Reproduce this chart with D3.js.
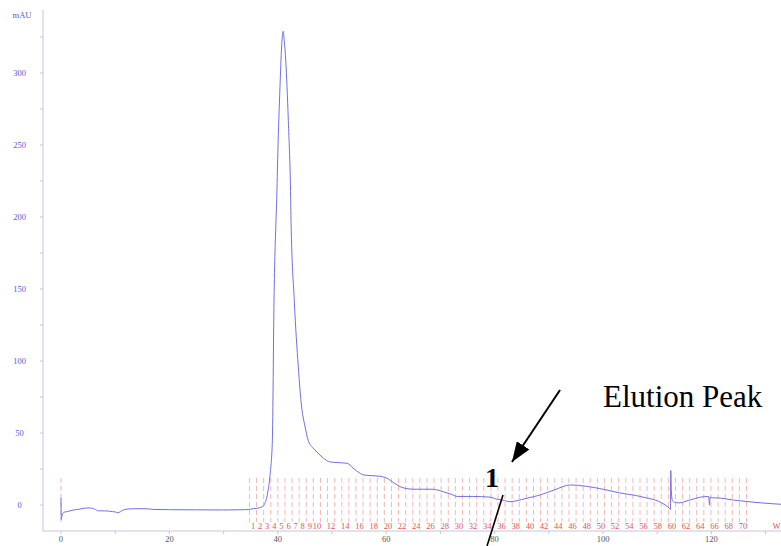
<!DOCTYPE html>
<html>
<head>
<meta charset="utf-8">
<script src="https://cdn.jsdelivr.net/npm/d3@7"></script>
<style>
  body { margin: 0; background: #fff; }
  svg { display: block; }
</style>
</head>
<body>
<svg width="781" height="546"></svg>
<script>
// chromatogram: time (ml) and absorbance (mAU)
var time = [0, 0.05, 0.15, 0.5, 1.2, 2.2, 3.5, 4.7, 5.5, 6.2, 6.9, 8, 9, 10, 10.5, 11, 11.8, 13, 14.6, 16, 17, 20, 25, 30, 34, 35.5, 36.5,
  37.2, 37.6, 38.2, 38.6, 39.0, 39.3, 39.67, 39.8, 40.0, 40.4, 40.7, 41.0, 41.2, 41.46, 41.94, 42.38, 42.44, 43.04, 43.78, 44.4, 45.0, 45.6,
  46.4, 47.2, 48.4, 49.6, 51, 52.8, 53.9, 55.2, 55.7, 57, 58.9, 60.1, 61.6, 63.1, 65, 68.6, 70.5, 72, 73.1, 76, 79.2, 80.5, 81.5, 82.8, 84, 86,
  88.4, 91, 94, 97, 100, 103, 105.5, 108, 110, 111.5, 112.2, 112.45, 112.5, 112.6, 112.8, 113.2, 114, 116, 118, 119.5, 119.65, 119.75, 120.2,
  121, 124, 127.7, 131, 133];
var mAU = [5, -10, -8, -5, -4.5, -3.5, -2.8, -2, -2, -2.8, -4, -4, -4.3, -4.8, -5.3, -4.5, -3, -2.6, -2.5, -2.6, -3, -3.2, -3.3, -3.4, -3.2, -2.5, -2,
  -1, 1, 10, 22, 45, 142, 198, 212, 244, 290, 318, 329, 322, 309, 267, 212, 198, 142, 96, 68, 55, 45,
  40, 37, 32.6, 30, 29.5, 29, 25.6, 22, 21, 20.5, 20, 18.7, 15, 12, 11, 11, 9.3, 7.5, 6, 6, 5.5, 4, 3.5, 2.3, 3, 4.8,
  7, 10.5, 14, 13, 11, 8.5, 7, 5, 3, 0, -2, -3, 24, 10, 3, 2, 1.5, 3.5, 5.5, 6, 0, 5.5, 5,
  5, 3.5, 2, 1, 0.5];

// fraction collector marks (ml) and the injection mark
var fractionEdges = [34.77, 36.08, 37.39, 38.70, 40.01, 41.32, 42.63, 43.94, 45.25, 46.56, 47.87, 49.18, 50.49, 51.80, 53.11,
  54.42, 55.73, 57.04, 58.35, 59.66, 60.97, 62.28, 63.59, 64.90, 66.21, 67.52, 68.83, 70.14, 71.45, 72.76, 74.07, 75.38,
  76.69, 78.00, 79.31, 80.62, 81.93, 83.24, 84.55, 85.86, 87.17, 88.48, 89.79, 91.10, 92.41, 93.72, 95.03, 96.34, 97.65,
  98.96, 100.27, 101.58, 102.89, 104.20, 105.51, 106.82, 108.13, 109.44, 110.75, 112.06, 113.37, 114.68, 115.99, 117.30,
  118.61, 119.92, 121.23, 122.54, 123.85, 125.16, 126.47];
var injectionMark = [0];
var wasteLabel = { label: "W", at: 132 };

var xTicks = [0, 20, 40, 60, 80, 100, 120];
var xMinor = [10, 30, 50, 70, 90, 110, 130];
var yTicks = [0, 50, 100, 150, 200, 250, 300];
var yMinor = [25, 75, 125, 175, 225, 275, 325];

var svg = d3.select("svg");
var x = d3.scaleLinear().domain([-3.32, 132.84]).range([43, 781]);
var y = d3.scaleLinear().domain([-18, 343.75]).range([531, 10]);

var axisCol = "#c4c4e6", tickTxt = "#5a5ad2";

// axes
svg.append("line").attr("x1", x.range()[0]).attr("x2", x.range()[1])
  .attr("y1", y(-18)).attr("y2", y(-18)).attr("stroke", axisCol);
svg.append("line").attr("x1", x(-3.32)).attr("x2", x(-3.32))
  .attr("y1", y.range()[0]).attr("y2", y.range()[1]).attr("stroke", axisCol);

svg.selectAll(".yt").data(yTicks.concat(yMinor)).enter().append("line")
  .attr("x1", 40).attr("x2", 43).attr("y1", d => y(d)).attr("y2", d => y(d))
  .attr("stroke", axisCol);
svg.selectAll(".xt").data(xTicks.concat(xMinor)).enter().append("line")
  .attr("x1", d => x(d)).attr("x2", d => x(d)).attr("y1", 531).attr("y2", 534)
  .attr("stroke", axisCol);

svg.selectAll(".yl").data(yTicks).enter().append("text")
  .attr("x", 19.5).attr("y", d => y(d) + 3).attr("text-anchor", "middle")
  .attr("font-family", "Liberation Serif").attr("font-size", 8.5).attr("fill", tickTxt)
  .text(d => d);
svg.append("text").attr("x", 22).attr("y", 18).attr("text-anchor", "middle")
  .attr("font-family", "Liberation Serif").attr("font-size", 8.5).attr("fill", tickTxt)
  .text("mAU");
svg.selectAll(".xl").data(xTicks).enter().append("text")
  .attr("x", d => x(d)).attr("y", 542).attr("text-anchor", "middle")
  .attr("font-family", "Liberation Serif").attr("font-size", 8.5).attr("fill", "#555")
  .text(d => d);

// fraction marks
svg.selectAll(".fr").data(injectionMark.concat(fractionEdges)).enter().append("line")
  .attr("x1", d => x(d)).attr("x2", d => x(d)).attr("y1", 478).attr("y2", 522)
  .attr("stroke", "#f4a4a4").attr("stroke-width", 0.8).attr("stroke-dasharray", "5,3");

var fractions = fractionEdges.slice(0, -1).map((d, i) => ({ n: i + 1, mid: (d + fractionEdges[i + 1]) / 2 }))
  .filter(f => f.n < 10 || f.n % 2 == 0);
svg.selectAll(".fl").data(fractions).enter().append("text")
  .attr("x", d => x(d.mid)).attr("y", 529).attr("text-anchor", "middle")
  .attr("font-family", "Liberation Serif").attr("font-size", 8.5).attr("fill", "#e85050")
  .text(d => d.n);
svg.append("text").attr("x", x(wasteLabel.at)).attr("y", 529).attr("text-anchor", "middle")
  .attr("font-family", "Liberation Serif").attr("font-size", 8.5).attr("fill", "#e85050")
  .text(wasteLabel.label);

// UV trace
var line = d3.line().x(d => x(d[0])).y(d => y(d[1])).curve(d3.curveMonotoneX);
svg.append("path").datum(d3.zip(time, mAU))
  .attr("d", line).attr("fill", "none").attr("stroke", "#7070e2").attr("stroke-width", 1);

// annotation
svg.append("defs").append("marker").attr("id", "ah")
  .attr("viewBox", "0 0 20 15").attr("refX", 20).attr("refY", 7.5)
  .attr("markerWidth", 20).attr("markerHeight", 15).attr("markerUnits", "userSpaceOnUse")
  .attr("orient", "auto")
  .append("path").attr("d", "M0,0L20,7.5L0,15Z").attr("fill", "#000");

svg.append("line").attr("x1", x(92.07)).attr("y1", y(79.9)).attr("x2", x(83.2)).attr("y2", y(29.9))
  .attr("stroke", "#000").attr("stroke-width", 2).attr("marker-end", "url(#ah)");
svg.append("text").attr("x", x(100)).attr("y", y(68.1))
  .attr("font-family", "Liberation Serif").attr("font-size", 31).attr("fill", "#000")
  .text("Elution Peak");
svg.append("text").attr("x", x(79.5)).attr("y", y(12.6)).attr("text-anchor", "middle")
  .attr("font-family", "Liberation Serif").attr("font-weight", "bold").attr("font-size", 28)
  .text("1");
svg.append("line").attr("x1", x(81.55)).attr("y1", y(7)).attr("x2", x(78.6)).attr("y2", y(-28.4))
  .attr("stroke", "#000").attr("stroke-width", 1.6);
</script>
</body>
</html>
